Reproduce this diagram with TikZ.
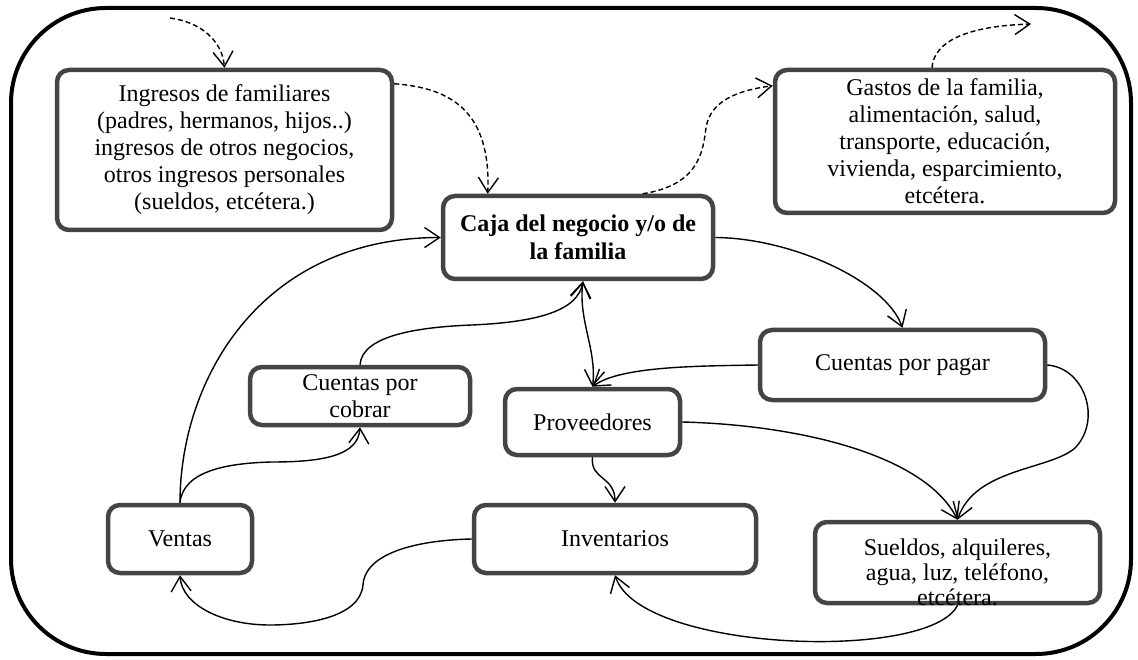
\documentclass[tikz,border=0pt]{standalone}
\usepackage{fontspec}
\setmainfont{Liberation Serif}
\usetikzlibrary{arrows.meta,calc}
\definecolor{boxgray}{HTML}{444444}
\begin{document}
\begin{tikzpicture}[x=1pt,y=-1pt,
  box/.style={draw=boxgray,line width=4.5pt,rounded corners=12pt,fill=white,
    align=center,inner sep=0pt,font=\fontsize{24}{27}\selectfont},
  txt/.style={align=center,inner sep=0pt,font=\fontsize{24}{25}\selectfont},
  flow/.style={line width=1.4pt,-{Straight Barb[length=15pt,width=20pt,line width=1.4pt]}},
  both/.style={line width=1.4pt,{Straight Barb[length=15pt,width=20pt,line width=1.4pt]}-{Straight Barb[length=15pt,width=20pt,line width=1.4pt]}},
  outside/.style={flow,dash pattern=on 5pt off 3pt}]
\useasboundingbox (0,0) rectangle (1138,660);
% outer frame
\draw[line width=4pt,rounded corners=95pt] (11,8) rectangle (1131,654);

% boxes
\node[box,minimum width=335,minimum height=160] (ing) at (224.5,150)
  {Ingresos de familiares\\(padres, hermanos, hijos..)\\ingresos de otros negocios,\\otros ingresos personales\\(sueldos, etcétera.)};
\node[box,minimum width=340,minimum height=143] (gas) at (945,141.5)
  {Gastos de la familia,\\alimentación, salud,\\transporte, educación,\\vivienda, esparcimiento,\\etcétera.};
\node[box,minimum width=270,minimum height=83,font=\fontsize{24}{28}\selectfont\bfseries] (caja) at (578,237.5)
  {Caja del negocio y/o de\\la familia};
\node[box,minimum width=285,minimum height=70] (pag) at (902.5,365) {Cuentas por pagar};
\node[box,minimum width=220,minimum height=58] (cob) at (360,396) {Cuentas por\\cobrar};
\node[box,minimum width=175,minimum height=66] (prov) at (592.5,422) {Proveedores};
\node[box,minimum width=144,minimum height=68] (ven) at (180,539) {Ventas};
\node[box,minimum width=282,minimum height=68] (inv) at (615,539) {Inventarios};
\node[box,minimum width=285,minimum height=81] (sue) at (957.5,562.5) {};

% flows into and out of the household
\coordinate (src) at (170,18);
\coordinate (sink) at (1031,24);
\draw[outside] (src) .. controls (200,22) and (222,40) .. (ing.north);
\draw[outside] ($(ing.north east)+(0,16)$) .. controls (452,88) and (491,112) .. ($(caja.north west)+(47,0)$);
\draw[outside] ($(caja.north west)+(202,0)$) .. controls (700,185) and (703,150) .. (706,128)
  .. controls (710,100) and (740,90) .. ($(gas.north west)+(0,18)$);
\draw[outside] ($(gas.north)+(-13,0)$) .. controls (934,40) and (970,26) .. (sink);

% business cycle
\draw[flow] (ven.north) .. controls (180,380) and (260,238) .. (caja.west);
\draw[flow] (ven.north) .. controls (183,470) and (230,463) .. (272,462)
  .. controls (325,462) and (358,455) .. (cob.south);
\draw[flow] (cob.north) .. controls (362,335) and (420,327) .. (472,325)
  .. controls (540,322) and (578,310) .. ($(caja.south)+(5,0)$);
\draw[both] ($(caja.south)+(5,0)$) .. controls (578,320) and (597,350) .. (prov.north);
\draw[flow] (caja.east) .. controls (790,238) and (885,280) .. (pag.north);
\draw[flow] (pag.west) .. controls (700,366) and (620,366) .. (prov.north);
\draw[flow] (pag.east) .. controls (1085,368) and (1102,420) .. (1075,448)
  .. controls (1050,470) and (975,468) .. (sue.north);
\draw[flow] (prov.east) .. controls (800,425) and (925,455) .. (sue.north);
\draw[flow] (prov.south) .. controls (590,480) and (615,476) .. (inv.north);
\draw[flow] (inv.west) .. controls (420,540) and (365,552) .. (363,585)
  .. controls (360,618) and (305,625) .. (270,625)
  .. controls (222,625) and (182,605) .. (ven.south);
\draw[flow] (sue.south) .. controls (930,662) and (640,652) .. (inv.south);

% text of the expenses box, set low in its frame
\node[txt] (suetext) at ($(sue.center)+(0,10)$) {Sueldos, alquileres,\\agua, luz, teléfono,\\etcétera.};
\end{tikzpicture}
\end{document}
